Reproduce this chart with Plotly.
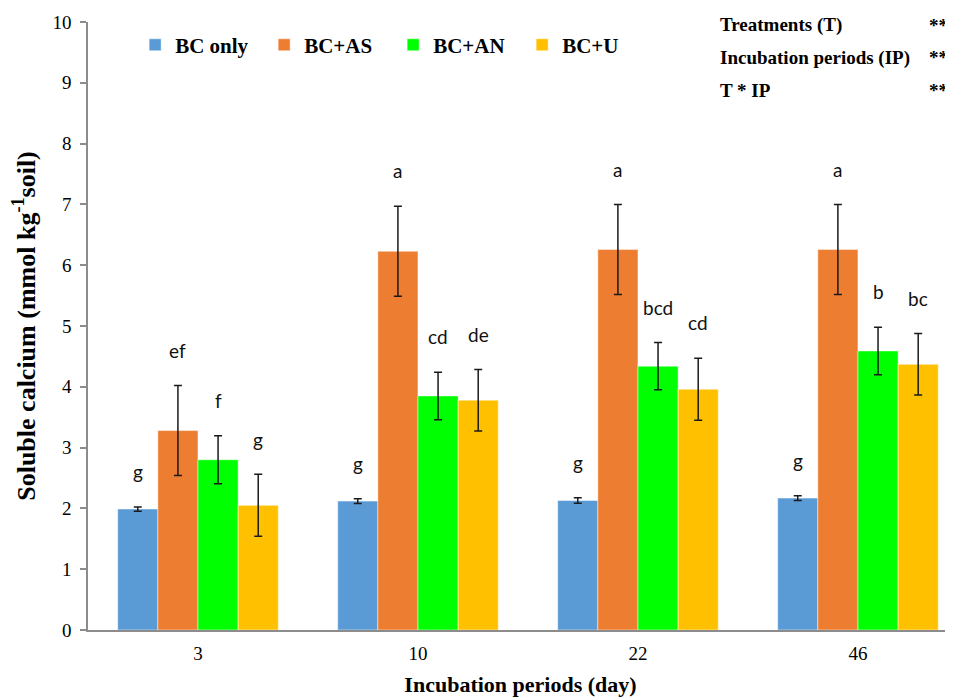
import plotly.graph_objects as go

periods = ["3", "10", "22", "46"]
treatments = ["BC only", "BC+AS", "BC+AN", "BC+U"]

bc_only = [1.99, 2.12, 2.13, 2.17]
bc_as = [3.28, 6.23, 6.26, 6.26]
bc_an = [2.80, 3.85, 4.34, 4.59]
bc_u = [2.05, 3.78, 3.96, 4.37]

err_bc_only = [0.035, 0.04, 0.045, 0.04]
err_as = [0.74, 0.74, 0.74, 0.74]
err_an = [0.395, 0.39, 0.39, 0.39]
err_u = [0.51, 0.505, 0.51, 0.505]

letters_bc_only = ["g", "g", "g", "g"]
letters_as = ["ef", "a", "a", "a"]
letters_an = ["f", "cd", "bcd", "b"]
letters_u = ["g", "de", "cd", "bc"]

stat_labels = ["Treatments (T)", "Incubation periods (IP)", "T * IP"]
stat_signif = ["**", "**", "**"]

colors = ["#5B9BD5", "#ED7D31", "#00FF00", "#FFC000"]

values = [bc_only, bc_as, bc_an, bc_u]
errors = [err_bc_only, err_as, err_an, err_u]
letters = [letters_bc_only, letters_as, letters_an, letters_u]

serif = "Liberation Serif, Times New Roman, serif"
sans = "Lato, Carlito, Calibri, sans-serif"

BARGAP = 0.27

fig = go.Figure()
for name, vals, errs, col in zip(treatments, values, errors, colors):
    fig.add_trace(go.Bar(
        name=name, x=periods, y=vals,
        marker=dict(color=col, line=dict(color="rgba(255,255,255,0.6)", width=0.8)),
        error_y=dict(type="data", array=errs, visible=True, color="#1a1a1a",
                     thickness=1.5, width=4),
    ))

annotations = []
n = len(treatments)
bw = (1 - BARGAP) / n
for i, (vals, errs, labs) in enumerate(zip(values, errors, letters)):
    for j, (v, e, t) in enumerate(zip(vals, errs, labs)):
        annotations.append(dict(
            x=j + (i - (n - 1) / 2) * bw, y=v + e + 0.58, xref="x", yref="y",
            text=t, showarrow=False, yanchor="middle",
            font=dict(family=sans, size=19, color="#111"),
        ))

stat_y = [0.995, 0.941, 0.887]
for lab, sig, yy in zip(stat_labels, stat_signif, stat_y):
    annotations.append(dict(x=0.728, y=yy, xref="paper", yref="paper", text="<b>%s</b>" % lab,
                            showarrow=False, xanchor="left", yanchor="middle",
                            font=dict(family=serif, size=19, color="#000")))
    annotations.append(dict(x=0.997, y=yy, xref="paper", yref="paper", text="<b>%s</b>" % sig,
                            showarrow=False, xanchor="right", yanchor="middle",
                            font=dict(family=serif, size=19, color="#000")))

fig.update_layout(
    width=945, height=689,
    margin=dict(l=80, r=0, t=14, b=67),
    paper_bgcolor="white", plot_bgcolor="white",
    barmode="group", bargap=BARGAP, bargroupgap=0,
    showlegend=True,
    legend=dict(orientation="h", x=0.0545, y=0.962, xanchor="left", yanchor="middle",
                font=dict(family=serif, size=21, color="#000", weight="bold"),
                entrywidth=84, entrywidthmode="pixels", bgcolor="rgba(0,0,0,0)",
                traceorder="normal"),
    annotations=annotations,
    xaxis=dict(
        range=[-0.5, 3.432], showline=True, linecolor="#8c8c8c", linewidth=1.5,
        ticks="", showgrid=False, zeroline=False, ticklabelstandoff=5,
        tickfont=dict(family=serif, size=19, color="#000"),
        title=dict(text="Incubation periods (day)", standoff=18,
                   font=dict(family=serif, size=22, color="#000", weight="bold")),
    ),
    yaxis=dict(
        range=[0, 10], dtick=1, showline=True, linecolor="#8c8c8c", linewidth=1.5,
        ticks="outside", ticklen=6, tickcolor="#8c8c8c", tickwidth=1.5,
        showgrid=False, zeroline=False, ticklabelstandoff=5,
        tickfont=dict(family=serif, size=19, color="#000"),
        title=dict(text="Soluble calcium (mmol kg<sup>-1</sup>soil)", standoff=9,
                   font=dict(family=serif, size=26, color="#000", weight="bold")),
    ),
)

fig.write_html("out.html")
